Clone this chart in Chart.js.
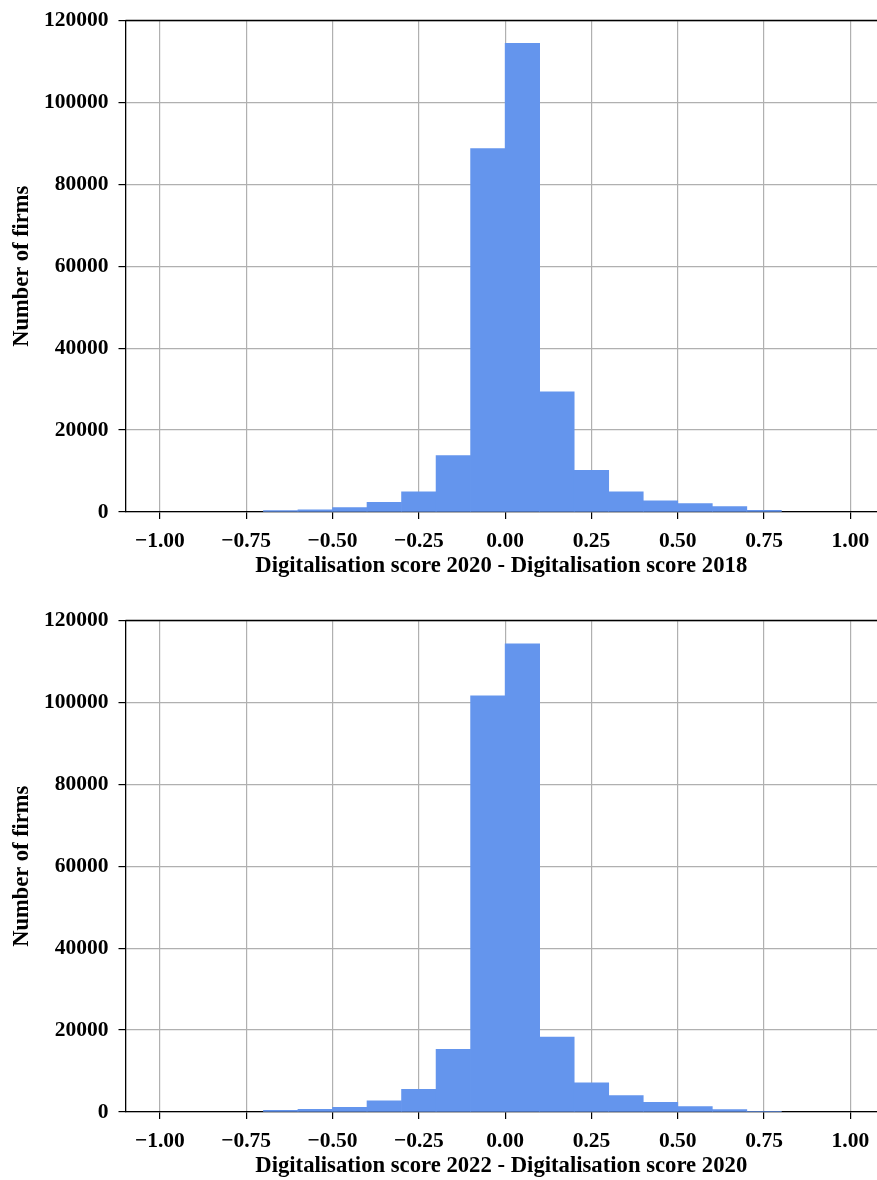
<!DOCTYPE html>
<html>
<head>
<meta charset="utf-8">
<script src="https://cdn.jsdelivr.net/npm/chart.js@4/dist/chart.umd.min.js"></script>
<style>
  html, body { margin: 0; padding: 0; background: #fff; overflow: hidden; }
  canvas { position: absolute; left: 0; }
  #hist2018 { top: 0; }
  #hist2020 { top: 600px; }
</style>
</head>
<body>
<canvas id="hist2018" width="877" height="600"></canvas>
<canvas id="hist2020" width="877" height="600"></canvas>
<script>
// bin centres (bins are 0.1 wide)
const binCenters = [-0.65, -0.55, -0.45, -0.35, -0.25, -0.15, -0.05, 0.05, 0.15, 0.25, 0.35, 0.45, 0.55, 0.65, 0.75];

// number of firms per bin
const firms2018to2020 = [320, 560, 1050, 2350, 4950, 13800, 88700, 114400, 29350, 10150, 4950, 2750, 2030, 1300, 400];
const firms2020to2022 = [420, 650, 1150, 2700, 5550, 15300, 101600, 114300, 18300, 7130, 4000, 2350, 1300, 570, 180];

const xTickValues = [-1.0, -0.75, -0.5, -0.25, 0, 0.25, 0.5, 0.75, 1.0];
const xTickLabels = ['\u22121.00', '\u22120.75', '\u22120.50', '\u22120.25', '0.00', '0.25', '0.50', '0.75', '1.00'];
const yTickValues = [0, 20000, 40000, 60000, 80000, 100000, 120000];
const yTickLabels = ['0', '20000', '40000', '60000', '80000', '100000', '120000'];

const BAR_COLOR = '#6495ED';
const GRID_COLOR = '#b0b0b0';
const FONT = 'Liberation Serif, Times New Roman, serif';

// top spine, the library only draws left/bottom borders
const topSpine = {
  id: 'topSpine',
  afterDraw(chart) {
    const { ctx, chartArea } = chart;
    ctx.save();
    ctx.strokeStyle = '#000';
    ctx.lineWidth = 1.3;
    ctx.beginPath();
    ctx.moveTo(chartArea.left, chartArea.top);
    ctx.lineTo(chart.width, chartArea.top);
    ctx.stroke();
    ctx.restore();
  }
};

function makeHist(id, counts, xTitle) {
  const ctx = document.getElementById(id).getContext('2d');
  return new Chart(ctx, {
    type: 'bar',
    data: {
      datasets: [{
        data: binCenters.map((x, i) => ({ x: x, y: counts[i] })),
        backgroundColor: BAR_COLOR,
        borderWidth: 0,
        barPercentage: 1.0,
        categoryPercentage: 1.0
      }]
    },
    options: {
      responsive: false,
      animation: false,
      layout: { padding: { top: 20.5, left: 0, right: 0, bottom: 0 } },
      plugins: {
        legend: { display: false },
        tooltip: { enabled: false }
      },
      scales: {
        x: {
          type: 'linear',
          offset: false,
          min: -1.0995,
          max: 1.077,
          z: 1,
          afterBuildTicks: (scale) => { scale.ticks = xTickValues.map(v => ({ value: v })); },
          afterFit: (scale) => {
            scale.height = 88;
            // keep the plot running to the right edge
            scale.paddingLeft = 0;
            scale.paddingRight = 0;
          },
          ticks: {
            callback: (v, i) => xTickLabels[i],
            color: '#000',
            padding: 10,
            maxRotation: 0,
            autoSkip: false,
            font: { family: FONT, size: 21.5, weight: 'bold' }
          },
          grid: {
            offset: false,
            color: GRID_COLOR,
            lineWidth: 1.2,
            tickColor: '#000',
            tickLength: 7,
            tickWidth: 1.2
          },
          border: { display: true, color: '#000', width: 1.3 },
          title: {
            display: true,
            text: xTitle,
            color: '#000',
            padding: { top: 0, bottom: 20 },
            font: { family: FONT, size: 22.7, weight: 'bold' }
          }
        },
        y: {
          min: 0,
          max: 120000,
          z: 1,
          afterBuildTicks: (scale) => { scale.ticks = yTickValues.map(v => ({ value: v })); },
          afterFit: (scale) => {
            scale.width = 125.5;
            scale.paddingTop = 0;
            scale.paddingBottom = 0;
          },
          ticks: {
            callback: (v, i) => yTickLabels[i],
            color: '#000',
            padding: 10,
            font: { family: FONT, size: 21.5, weight: 'bold' }
          },
          grid: {
            color: GRID_COLOR,
            lineWidth: 1.2,
            tickColor: '#000',
            tickLength: 7,
            tickWidth: 1.2
          },
          border: { display: true, color: '#000', width: 1.3 },
          title: {
            display: true,
            text: 'Number of firms',
            color: '#000',
            padding: { top: 9, bottom: 0 },
            font: { family: FONT, size: 22.5, weight: 'bold' }
          }
        }
      }
    },
    plugins: [topSpine]
  });
}

makeHist('hist2018', firms2018to2020, 'Digitalisation score 2020 - Digitalisation score 2018');
makeHist('hist2020', firms2020to2022, 'Digitalisation score 2022 - Digitalisation score 2020');
</script>
</body>
</html>
